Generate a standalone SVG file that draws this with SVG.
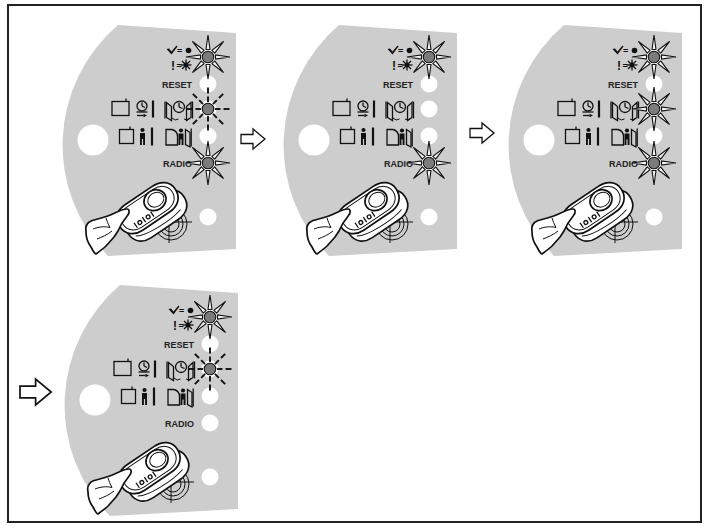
<svg xmlns="http://www.w3.org/2000/svg" width="708" height="526" viewBox="0 0 708 526">
  <style>
    .plate { fill: #cdcdcd; }
    .hole { fill: #ffffff; }
    .led { fill: #7b7b7b; stroke: #111; stroke-width: 1.1; }
    .ray { fill: #f4f4f4; stroke: #111; stroke-width: 1.1; stroke-linejoin: miter; }
    .dash { stroke: #111; stroke-width: 1.9; stroke-linecap: butt; }
    .ln { fill: none; stroke: #111; stroke-width: 1.3; }
    .thick { fill: none; stroke: #111; stroke-width: 2.2; }
    .ink { fill: #111; }
    .lbl { font-family: "Liberation Sans", Arial, sans-serif; font-weight: bold; font-size: 9px; fill: #222; }
    .sym { font-family: "Liberation Sans", Arial, sans-serif; font-weight: bold; fill: #111; }
    .body { fill: #ffffff; stroke: #111; stroke-width: 1.7; stroke-linejoin: round; }
    .fine { fill: none; stroke: #111; stroke-width: 1; }
    .arrow { fill: #ffffff; stroke: #111; stroke-width: 1.3; stroke-linejoin: miter; }
  </style>
  <defs>
    <!-- control board outline: straight top, right and bottom, arced left side -->
    <path id="plate" class="plate" d="M118,25 L236,33 L236,249 L108,256 A158,158 0 0 1 118,25 Z"/>

    <!-- steady light: eight wedge rays round a grey lamp -->
    <polygon id="ray" class="ray" points="-2,-7.5 2,-7.5 0,-22"/>
    <g id="star-on">
      <use href="#ray"/>
      <use href="#ray" transform="rotate(45)"/>
      <use href="#ray" transform="rotate(90)"/>
      <use href="#ray" transform="rotate(135)"/>
      <use href="#ray" transform="rotate(180)"/>
      <use href="#ray" transform="rotate(225)"/>
      <use href="#ray" transform="rotate(270)"/>
      <use href="#ray" transform="rotate(315)"/>
      <circle class="led" r="5.8"/>
    </g>

    <!-- flashing light: broken rays -->
    <g id="dray">
      <line class="dash" x1="0" y1="-7" x2="0" y2="-12.5"/>
      <line class="dash" x1="0" y1="-15.5" x2="0" y2="-21.5"/>
    </g>
    <g id="star-blink">
      <use href="#dray"/>
      <use href="#dray" transform="rotate(45)"/>
      <use href="#dray" transform="rotate(90)"/>
      <use href="#dray" transform="rotate(135)"/>
      <use href="#dray" transform="rotate(180)"/>
      <use href="#dray" transform="rotate(225)"/>
      <use href="#dray" transform="rotate(270)"/>
      <use href="#dray" transform="rotate(315)"/>
      <circle class="led" r="5.8"/>
    </g>

    <!-- legend, labels and function pictograms printed on the board -->
    <g id="printing">
      <!-- tick pictogram = steady lamp, ! = flashing lamp -->
      <path class="ink" d="M166.5,49 L169,48.5 L171.5,51.5 L176.5,45.5 L177.5,46.5 L171.5,54.5 Z"/>
      <text class="sym" x="177" y="54" font-size="9">=</text>
      <circle class="ink" cx="188.5" cy="50.5" r="2.8"/>
      <text class="sym" x="171" y="69.5" font-size="12">!</text>
      <text class="sym" x="176.5" y="68.5" font-size="9">=</text>
      <g class="ln" stroke-width="1.3">
        <line x1="180.5" y1="65" x2="191.5" y2="65"/>
        <line x1="186" y1="59.5" x2="186" y2="70.5"/>
        <line x1="182" y1="61" x2="190" y2="69"/>
        <line x1="182" y1="69" x2="190" y2="61"/>
      </g>
      <circle class="ink" cx="186" cy="65" r="2.4"/>

      <text class="lbl" x="162" y="87.5">RESET</text>
      <text class="lbl" x="163" y="166.5">RADIO</text>

      <!-- row 1: timed closing, single leaf / double leaf -->
      <rect class="ln" x="112" y="101.5" width="17" height="14"/>
      <line class="ln" x1="126" y1="98.5" x2="126" y2="101.5"/>
      <circle class="ln" cx="142" cy="106" r="5" stroke-width="1.9"/>
      <path class="ln" d="M142,106 L142,102.5 M142,106 L145,107.5" stroke-width="1.1"/>
      <line class="ln" x1="136.5" y1="112" x2="147.5" y2="112" stroke-width="1.5"/>
      <line class="ln" x1="137" y1="115.5" x2="143.5" y2="115.5" stroke-width="1"/>
      <polygon class="ink" points="143.5,113.7 147,115.5 143.5,117.3"/>
      <line class="thick" x1="153" y1="100.5" x2="153" y2="117.5"/>

      <line class="ln" x1="165" y1="101.5" x2="165" y2="118.5" stroke-width="1.5"/>
      <polygon class="ln" points="166.5,102.5 171.5,106.5 171.5,120.5 166.5,117.5"/>
      <circle class="ln" cx="179" cy="107" r="5.5" stroke-width="1.9"/>
      <path class="ln" d="M179,107 L179,103 M179,107 L182.5,108.5" stroke-width="1.1"/>
      <polygon class="ln" points="191,102.5 186.5,106.5 186.5,120.5 191,117.5"/>
      <line class="ln" x1="192.5" y1="101.5" x2="192.5" y2="118.5" stroke-width="1.5"/>
      <path class="fine" d="M172,118 Q175,121.5 178.5,119 M184,119 Q187.5,121.5 190,118" stroke-width="0.9"/>

      <!-- row 2: presence detection, single leaf / double leaf -->
      <rect class="ln" x="119.5" y="129.5" width="14" height="14"/>
      <line class="ln" x1="130" y1="126.5" x2="130" y2="129.5"/>
      <circle class="ink" cx="142.5" cy="130" r="2.1"/>
      <path class="ink" d="M140,133 H145 V145 H143.1 V139 H141.9 V145 H140 Z"/>
      <line class="thick" x1="152" y1="127.5" x2="152" y2="145.5"/>

      <path class="ln" d="M166,129.5 L172,129.5 Q177.5,131 177.5,136.5 L177.5,145 L166,145 Z"/>
      <circle class="ink" cx="181" cy="130.5" r="2.1"/>
      <path class="ink" d="M178.5,133.5 H183.5 V145 H181.6 V139.5 H180.4 V145 H178.5 Z"/>
      <polygon class="ln" points="185.5,129.5 190,132.5 190,147 185.5,144.5"/>
      <line class="ln" x1="191.2" y1="128.5" x2="191.2" y2="146.5" stroke-width="1.4"/>
    </g>

    <!-- pad of lamp and button holes -->
    <g id="holes">
      <circle class="hole" cx="93" cy="140" r="15.5"/>
      <circle class="hole" cx="208" cy="57" r="8.5"/>
      <circle class="hole" cx="208" cy="84" r="8.5"/>
      <circle class="hole" cx="208" cy="109" r="8.5"/>
      <circle class="hole" cx="208" cy="136" r="8.5"/>
      <circle class="hole" cx="208" cy="163" r="8.5"/>
      <circle class="hole" cx="208" cy="217" r="8.5"/>
    </g>

    <!-- radio transmitter held against the receiver, finger on the button -->
    <g id="remote">
      <g class="fine" stroke-width="1.2">
        <circle cx="171" cy="224" r="16"/>
        <circle cx="171" cy="224" r="12"/>
        <circle cx="171" cy="224" r="8"/>
        <line x1="155" y1="222" x2="192" y2="222"/>
        <line x1="169" y1="205" x2="169" y2="243"/>
      </g>
      <g transform="translate(147,208) rotate(-34)">
        <path class="body" transform="translate(3,11)" d="M-33,0 C-33,-10 -26,-15 -16,-15 L16,-15 C27,-15 34,-9 34,0 C34,10 27,16 16,16 L-16,16 C-26,16 -33,10 -33,0 Z"/>
        <path class="fine" transform="translate(3,11)" d="M-28,6 C-20,12 10,13 24,9"/>
        <path class="body" d="M-33,0 C-33,-10 -26,-15 -16,-15 L16,-15 C27,-15 34,-9 34,0 C34,10 27,16 16,16 L-16,16 C-26,16 -33,10 -33,0 Z"/>
        <path class="fine" d="M-29,0 C-29,-8 -23,-12 -15,-12 L15,-12 C24,-12 30,-7 30,0 C30,8 24,13 15,13 L-15,13 C-23,13 -29,8 -29,0 Z"/>
        <ellipse class="body" cx="11" cy="-2" rx="11.5" ry="10"/>
        <ellipse class="fine" cx="12" cy="-2" rx="8.5" ry="7" stroke-width="1.2"/>
        <g class="ln" stroke-width="1.4">
          <line x1="-19" y1="5" x2="-19" y2="11"/>
          <circle cx="-14" cy="8" r="1.9"/>
          <line x1="-9" y1="5" x2="-9" y2="11"/>
          <circle cx="-4" cy="8" r="1.9"/>
          <line x1="1" y1="5" x2="1" y2="11"/>
        </g>
      </g>
      <path class="body" d="M127,209 C122,209 115,213 109,215.5 C104,217.5 97,219 92,220.5 C87,222.5 85,227 86,232 C86,238 88,243 91,247 C93,251 95,254 96,254 C100,251 104,248 106,246 L114,237 L118,231 C120,226 123,221 127.5,215.5 C130,212.5 129.5,209 127,209 Z"/>
      <path class="fine" d="M93,229 C98,227 104,226 110,227.5 M97,239 C102,237 107,235 112,231 M106,218 C107,221 108,224 110,227.5" stroke-width="1.2"/>
    </g>

    <!-- hollow step arrow -->
    <polygon id="step" class="arrow" points="0,-4.5 12,-4.5 12,-10 24,0 12,10 12,4.5 0,4.5"/>
  </defs>

  <!-- frame -->
  <rect x="8" y="5" width="693" height="517" fill="#ffffff" stroke="#222" stroke-width="2"/>

  <g id="connectors">
    <use href="#step" transform="translate(241,139)"/>
    <use href="#step" transform="translate(470,133)"/>
    <use href="#step" transform="translate(20,392) scale(1.3)"/>
  </g>

  <g id="panel-1">
    <use href="#plate"/>
    <use href="#holes"/>
    <use href="#printing"/>
    <use href="#star-on" x="208" y="57"/>
    <use href="#star-blink" x="208" y="109"/>
    <use href="#star-on" x="208" y="163"/>
    <use href="#remote"/>
  </g>

  <g id="panel-2" transform="translate(221,0)">
    <use href="#plate"/>
    <use href="#holes"/>
    <use href="#printing"/>
    <use href="#star-on" x="208" y="57"/>
    <use href="#star-on" x="208" y="163"/>
    <use href="#remote"/>
  </g>

  <g id="panel-3" transform="translate(446,0)">
    <use href="#plate"/>
    <use href="#holes"/>
    <use href="#printing"/>
    <use href="#star-on" x="208" y="57"/>
    <use href="#star-on" x="208" y="109"/>
    <use href="#star-on" x="208" y="163"/>
    <use href="#remote"/>
  </g>

  <g id="panel-4" transform="translate(2,260)">
    <use href="#plate"/>
    <use href="#holes"/>
    <use href="#printing"/>
    <use href="#star-on" x="208" y="57"/>
    <use href="#star-blink" x="208" y="109"/>
    <use href="#remote"/>
  </g>
</svg>
